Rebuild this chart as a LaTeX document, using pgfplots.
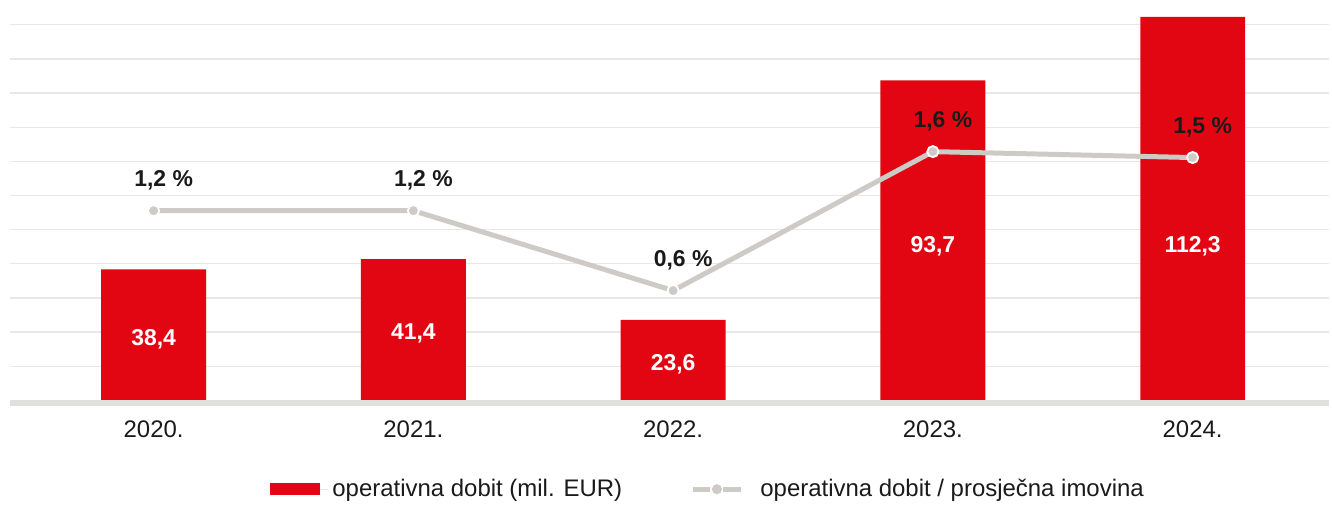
\documentclass[border=0pt]{standalone}
\usepackage{fontspec}
\setmainfont{Liberation Sans}
\usepackage{pgfplots}
\pgfplotsset{compat=1.18}

\definecolor{barred}{HTML}{E20613}
\definecolor{linegray}{HTML}{CECAC6}
\definecolor{gridgray}{HTML}{E8E8E8}
\definecolor{basegray}{HTML}{E2E0DD}
\definecolor{txt}{HTML}{1A1A1A}

\begin{document}
\begin{tikzpicture}
\pgfplotsset{
  base/.style={
    width=661pt, height=200.5pt, scale only axis,
    xmin=-0.553, xmax=4.526,
    axis line style={draw=none},
    major tick length=0pt,
    /pgf/number format/assume math mode=true,
  }
}

% bars: operating profit
\begin{axis}[
    base, name=main,
    ymin=0, ymax=117.2,
    ytick={10,20,...,110}, yticklabels={},
    yticklabel style={inner sep=0pt, anchor=east},
    ymajorgrids, grid style={gridgray, line width=0.6pt},
    xtick={0,1,2,3,4},
    xticklabels={2020.,2021.,2022.,2023.,2024.},
    xticklabel style={font=\fontsize{12}{14}\selectfont, text=txt, inner sep=0pt, anchor=north, yshift=-10pt},
    legend style={at={(rel axis cs:0.5296,-0.222)}, anchor=center, draw=none,
      font=\fontsize{12}{14}\selectfont, text=txt, legend columns=2,
      /tikz/every even column/.append style={column sep=32pt}},
]
\addplot[ybar, bar width=52.5pt, fill=barred, draw=none,
  legend image code/.code={\fill[barred] (0pt,-3pt) rectangle (25.5pt,3pt);
    \path[draw=none] (0pt,0pt) -- (29.5pt,0pt);}]
  coordinates {(0,38.4) (1,41.4) (2,23.6) (3,93.7) (4,112.3)};
\addlegendentry{operativna dobit (mil. EUR)}

\addplot[forget plot, draw=none, mark=none, nodes near coords, point meta=explicit symbolic,
  nodes near coords style={anchor=center, text=white, font=\bfseries\fontsize{11.5}{13}\selectfont}]
  coordinates {(0,17.8)[38,4] (1,19.6)[41,4] (2,10.5)[23,6] (3,45.0)[93,7] (4,45.0)[112,3]};

\addlegendimage{legend image code/.code={
  \draw[linegray, line width=2.5pt] (0pt,0pt) -- (9pt,0pt);
  \draw[linegray, line width=2.5pt] (15.5pt,0pt) -- (24.5pt,0pt);
  \fill[linegray] (12.25pt,0pt) circle (2.3pt);
  \path[draw=none] (0pt,0pt) -- (32pt,0pt);}}
\addlegendentry{operativna dobit / prosječna imovina}
\end{axis}

% line: operating profit / average assets
\begin{axis}[
    base,
    ymin=0, ymax=2.5,
    xtick=\empty, ytick=\empty,
    clip=false,
]
\addplot[linegray, line width=2.5pt, mark=*, mark size=2.8pt,
  mark options={fill=linegray, draw=white, line width=0.9pt},
  nodes near coords, point meta=explicit symbolic,
  nodes near coords style={anchor=center, yshift=15pt, xshift=5pt, text=txt,
    font=\bfseries\fontsize{11.5}{13}\selectfont}]
  coordinates {(0,1.185)[1,2 \%] (1,1.185)[1,2 \%] (2,0.686)[0,6 \%] (3,1.554)[1,6 \%] (4,1.517)[1,5 \%]};
\end{axis}

\draw[basegray, line width=2.75pt] ([yshift=-1.4pt]main.south west) -- ([yshift=-1.4pt]main.south east);
\path ([xshift=-5pt]main.north west) rectangle ([yshift=-50.5pt]main.south east);
\end{tikzpicture}
\end{document}
